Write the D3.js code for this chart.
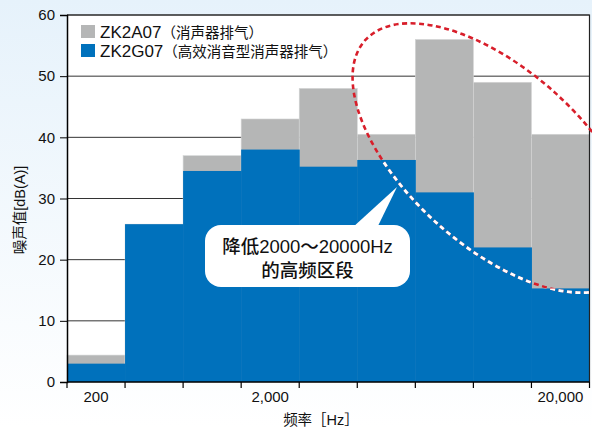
<!DOCTYPE html>
<html>
<head>
<meta charset="utf-8">
<script src="https://cdn.jsdelivr.net/npm/d3@7"></script>
<style>
  body { margin: 0; padding: 0; }
  svg { display: block; font-family: "Liberation Sans", Arial, "Noto Sans CJK SC", sans-serif; }
</style>
</head>
<body>
<script>
const width = 592
const height = 427

// octave bands, only three carry a label
const bands = ["b1", "b2", "b3", "b4", "b5", "b6", "b7", "b8", "b9"]
const labeledBands = ["b1", "b4", "b9"]
const tickLabels = ["200", "2,000", "20,000"]
const yTicks = [0, 10, 20, 30, 40, 50, 60]

const seriesNames = ["ZK2A07", "ZK2G07"]
const seriesNotes = ["（消声器排气）", "（高效消音型消声器排气）"]
const zk2a07 = [4.4, 25.8, 37, 43, 48, 40.5, 56, 49, 40.5]
const zk2g07 = [3, 25.8, 34.5, 38, 35.2, 36.3, 31, 22, 15.3]

const grey = "#b5b6b6"
const blue = "#0071bc"
const red = "#d81e2a"

const plotL = 67, plotR = 589.5, plotT = 15, plotB = 382

const x = d3.scaleBand().domain(bands).range([plotL, plotR]).padding(0)
const y = d3.scaleLinear().domain([0, 60]).range([plotB, plotT])

const svg = d3.select("body").append("svg")
    .attr("width", width)
    .attr("height", height)

const defs = svg.append("defs")
const grad = defs.append("linearGradient")
    .attr("id", "bg")
    .attr("x1", 0).attr("y1", 0).attr("x2", 0).attr("y2", 1)
grad.append("stop").attr("offset", "0%").attr("stop-color", "#e6f2fb")
grad.append("stop").attr("offset", "100%").attr("stop-color", "#ffffff")

svg.append("rect")
    .attr("width", width)
    .attr("height", height)
    .attr("fill", "url(#bg)")

svg.append("rect")
    .attr("x", plotL)
    .attr("y", plotT)
    .attr("width", plotR - plotL)
    .attr("height", plotB - plotT)
    .attr("fill", "white")

// grid lines behind bars
svg.selectAll(".grid")
    .data(yTicks.slice(1))
    .enter()
    .append("line")
    .attr("x1", plotL)
    .attr("x2", plotR)
    .attr("y1", d => y(d))
    .attr("y2", d => y(d))
    .attr("stroke", "#333")
    .attr("stroke-width", 1)

// grey bars (standard silencer)
svg.selectAll(".greyBar")
    .data(zk2a07)
    .enter()
    .append("rect")
    .attr("x", (d, i) => x(bands[i]))
    .attr("y", d => y(d))
    .attr("width", x.bandwidth())
    .attr("height", d => plotB - y(d))
    .attr("fill", grey)
    .attr("stroke", "#d4d5d5")
    .attr("stroke-width", 0.6)

// blue bars (high efficiency silencer)
const clip = defs.append("clipPath").attr("id", "blueArea")
clip.selectAll("rect")
    .data(zk2g07)
    .enter()
    .append("rect")
    .attr("x", (d, i) => x(bands[i]))
    .attr("y", d => y(d))
    .attr("width", x.bandwidth() + 0.5)
    .attr("height", d => plotB - y(d))

svg.selectAll(".blueBar")
    .data(zk2g07)
    .enter()
    .append("rect")
    .attr("x", (d, i) => x(bands[i]))
    .attr("y", d => y(d))
    .attr("width", x.bandwidth() + 0.5)
    .attr("height", d => plotB - y(d))
    .attr("fill", blue)

// frame top + right
svg.append("path")
    .attr("d", `M${plotL},${plotT}H${plotR}V${plotB}`)
    .attr("fill", "none")
    .attr("stroke", "#222")
    .attr("stroke-width", 1.2)

// y axis
const yAxis = svg.append("g")
    .attr("transform", `translate(${plotL},0)`)
    .call(d3.axisLeft(y).tickValues(yTicks).tickSize(7).tickPadding(5))
yAxis.select(".domain").attr("stroke", "#000").attr("stroke-width", 1.5)
yAxis.selectAll(".tick line").attr("stroke", "#000")
yAxis.selectAll("text")
    .attr("font-size", 15)
    .attr("fill", "#111")
    .style("font-family", "Liberation Sans, Arial, sans-serif")

// x axis: boundary ticks
const edges = bands.map(b => x(b)).concat([plotR])
svg.append("line")
    .attr("x1", plotL).attr("x2", plotR)
    .attr("y1", plotB).attr("y2", plotB)
    .attr("stroke", "#000").attr("stroke-width", 1.5)
svg.selectAll(".xtick")
    .data(edges)
    .enter()
    .append("line")
    .attr("x1", d => d).attr("x2", d => d)
    .attr("y1", plotB).attr("y2", plotB + 6)
    .attr("stroke", "#000")
    .attr("stroke-width", 1.2)

svg.selectAll(".xlabel")
    .data(labeledBands)
    .enter()
    .append("text")
    .attr("x", d => x(d) + x.bandwidth() / 2)
    .attr("y", 402)
    .attr("text-anchor", "middle")
    .attr("font-size", 15)
    .attr("fill", "#111")
    .text((d, i) => tickLabels[i])

// axis titles
svg.append("text")
    .attr("x", 321)
    .attr("y", 425)
    .attr("text-anchor", "middle")
    .attr("font-size", 14.5)
    .attr("fill", "#111")
    .text("频率［Hz］")

svg.append("text")
    .attr("transform", "translate(25,210) rotate(-90)")
    .attr("text-anchor", "middle")
    .attr("font-size", 14.5)
    .attr("fill", "#111")
    .text("噪声值[dB(A)]")

// legend
const legend = svg.selectAll(".legend")
    .data(seriesNames)
    .enter()
    .append("g")
    .attr("transform", (d, i) => `translate(81,${25 + i * 19})`)
legend.append("rect")
    .attr("width", 14)
    .attr("height", 13)
    .attr("fill", (d, i) => i == 0 ? grey : blue)
const legText = legend.append("text")
    .attr("x", 19)
    .attr("y", 13)
    .attr("fill", "#111")
legText.append("tspan")
    .attr("font-size", 17)
    .text(d => d)
legText.append("tspan")
    .attr("font-size", 14.5)
    .text((d, i) => seriesNotes[i])

// highlighted region: ellipse, red on light areas, white on blue
const ell = { cx: 496, cy: 158, rx: 176, ry: 88, rot: 42 }
svg.append("ellipse")
    .attr("cx", ell.cx).attr("cy", ell.cy)
    .attr("rx", ell.rx).attr("ry", ell.ry)
    .attr("transform", `rotate(${ell.rot},${ell.cx},${ell.cy})`)
    .attr("fill", "none")
    .attr("stroke", red)
    .attr("stroke-width", 2.6)
    .attr("stroke-dasharray", "5,3.5")
svg.append("g")
    .attr("clip-path", "url(#blueArea)")
    .append("ellipse")
    .attr("cx", ell.cx).attr("cy", ell.cy)
    .attr("rx", ell.rx).attr("ry", ell.ry)
    .attr("transform", `rotate(${ell.rot},${ell.cx},${ell.cy})`)
    .attr("fill", "none")
    .attr("stroke", "white")
    .attr("stroke-width", 2.8)
    .attr("stroke-dasharray", "5,3.5")

// callout
const callout = svg.append("g")
callout.append("path")
    .attr("d", "M352,228 L397,187 L377,228 Z")
    .attr("fill", "white")
callout.append("rect")
    .attr("x", 205).attr("y", 225)
    .attr("width", 205).attr("height", 62)
    .attr("rx", 16).attr("ry", 16)
    .attr("fill", "white")
const calloutLines = ["降低2000～20000Hz", "的高频区段"]
callout.selectAll("text")
    .data(calloutLines)
    .enter()
    .append("text")
    .attr("x", 307.5)
    .attr("y", (d, i) => 253 + i * 24)
    .attr("text-anchor", "middle")
    .attr("font-size", 18.5)
    .attr("font-weight", 500)
    .attr("fill", "#111")
    .text(d => d)
</script>
</body>
</html>
